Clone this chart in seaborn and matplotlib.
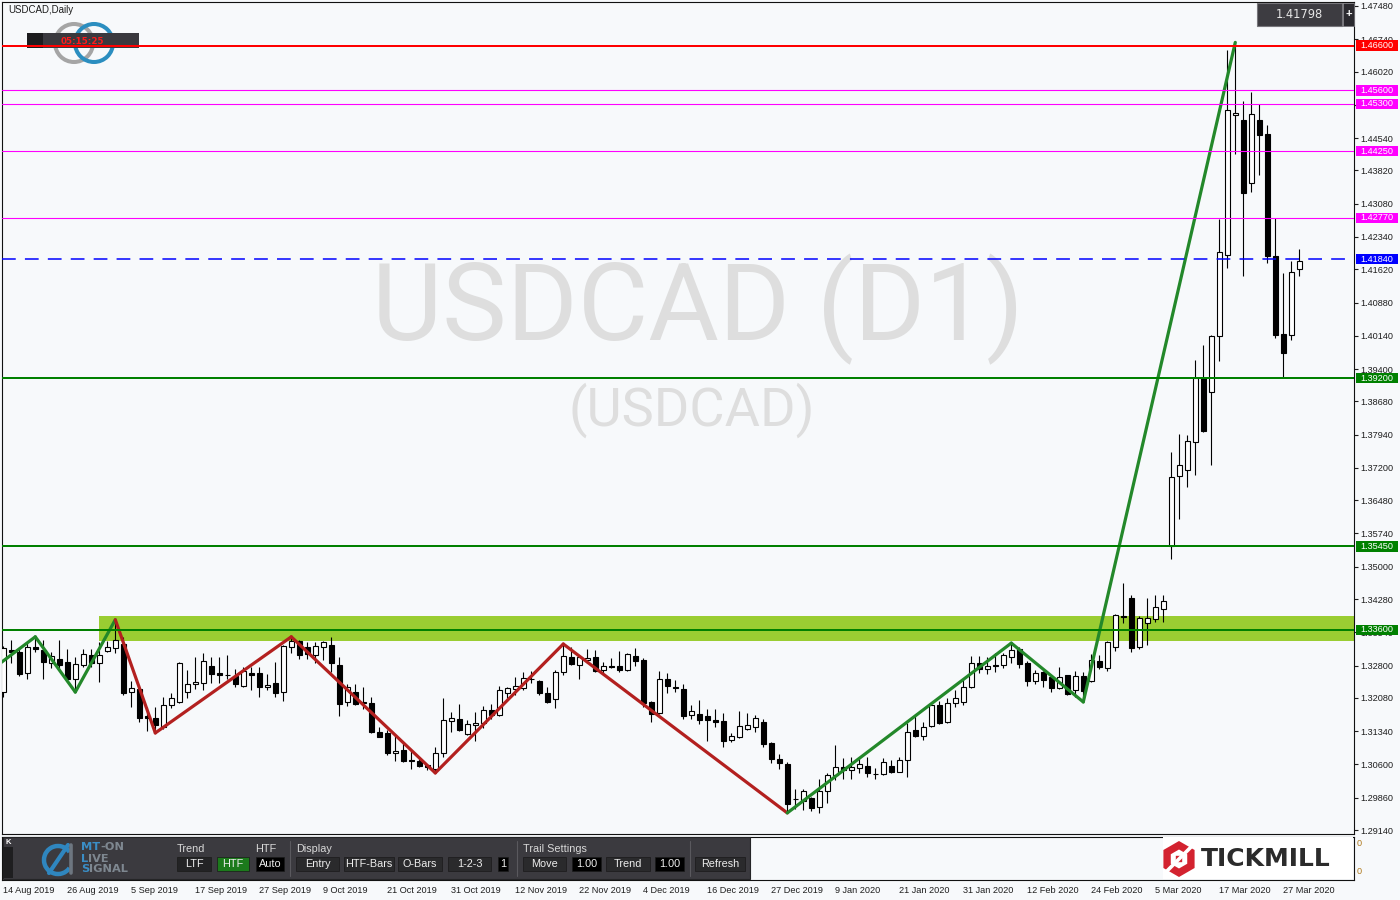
import numpy as np
import pandas as pd
import matplotlib
matplotlib.use("Agg")
import matplotlib.pyplot as plt
import seaborn as sns
from matplotlib.patches import Rectangle, Circle, RegularPolygon, Arc
from matplotlib.transforms import Affine2D, blended_transform_factory
from matplotlib.lines import Line2D
from matplotlib.text import Annotation

# ---------------- data ----------------
date_labels = ["14 Aug 2019", "26 Aug 2019", "5 Sep 2019", "17 Sep 2019", "27 Sep 2019",
               "9 Oct 2019", "21 Oct 2019", "31 Oct 2019", "12 Nov 2019", "22 Nov 2019",
               "4 Dec 2019", "16 Dec 2019", "27 Dec 2019", "9 Jan 2020", "21 Jan 2020",
               "31 Jan 2020", "12 Feb 2020", "24 Feb 2020", "5 Mar 2020", "17 Mar 2020",
               "27 Mar 2020"]

opens = [1.3221, 1.3315, 1.3310, 1.3264, 1.3321, 1.3315, 1.3286, 1.3295, 1.3288, 1.3250,
         1.3281, 1.3304, 1.3286, 1.3313, 1.3319, 1.3328, 1.3221, 1.3228, 1.3168, 1.3163,
         1.3143, 1.3192, 1.3199, 1.3221, 1.3239, 1.3241, 1.3279, 1.3263, 1.3259, 1.3257,
         1.3235, 1.3263, 1.3264, 1.3232, 1.3241, 1.3221, 1.3321, 1.3335, 1.3321, 1.3304,
         1.3321, 1.3326, 1.3281, 1.3199, 1.3221, 1.3198, 1.3197, 1.3132, 1.3130, 1.3086,
         1.3092, 1.3069, 1.3068, 1.3059, 1.3050, 1.3086, 1.3157, 1.3161, 1.3128, 1.3148,
         1.3152, 1.3181, 1.3170, 1.3219, 1.3228, 1.3230, 1.3251, 1.3246, 1.3219, 1.3206,
         1.3266, 1.3299, 1.3281, 1.3293, 1.3299, 1.3270, 1.3278, 1.3279, 1.3270, 1.3301,
         1.3293, 1.3199, 1.3175, 1.3250, 1.3233, 1.3228, 1.3170, 1.3172, 1.3168, 1.3158,
         1.3157, 1.3114, 1.3121, 1.3139, 1.3143, 1.3155, 1.3108, 1.3072, 1.3061, 1.2984,
         1.2979, 1.2985, 1.2965, 1.3001, 1.3037, 1.3054, 1.3048, 1.3052, 1.3057, 1.3039,
         1.3039, 1.3057, 1.3043, 1.3070, 1.3137, 1.3123, 1.3146, 1.3192, 1.3155, 1.3197,
         1.3199, 1.3232, 1.3286, 1.3272, 1.3282, 1.3281, 1.3299, 1.3317, 1.3286, 1.3246,
         1.3266, 1.3255, 1.3230, 1.3259, 1.3226, 1.3257, 1.3246, 1.3290, 1.3275, 1.3321,
         1.3390, 1.3430, 1.3321, 1.3375, 1.3384, 1.3406, 1.3546, 1.3702, 1.3715, 1.3778,
         1.3920, 1.3889, 1.4014, 1.4194, 1.4505, 1.4495, 1.4354, 1.4495, 1.4463, 1.4192,
         1.4018, 1.4016, 1.4163]
highs = [1.3324, 1.3337, 1.3321, 1.3330, 1.3344, 1.3337, 1.3310, 1.3337, 1.3317, 1.3299,
         1.3317, 1.3317, 1.3333, 1.3335, 1.3382, 1.3344, 1.3246, 1.3237, 1.3188, 1.3188,
         1.3210, 1.3219, 1.3288, 1.3270, 1.3299, 1.3308, 1.3299, 1.3299, 1.3304, 1.3272,
         1.3277, 1.3277, 1.3277, 1.3261, 1.3288, 1.3326, 1.3344, 1.3337, 1.3333, 1.3333,
         1.3335, 1.3344, 1.3299, 1.3239, 1.3239, 1.3232, 1.3210, 1.3143, 1.3137, 1.3126,
         1.3108, 1.3090, 1.3072, 1.3061, 1.3099, 1.3208, 1.3177, 1.3195, 1.3159, 1.3177,
         1.3190, 1.3195, 1.3235, 1.3232, 1.3255, 1.3266, 1.3268, 1.3248, 1.3232, 1.3270,
         1.3328, 1.3321, 1.3301, 1.3317, 1.3315, 1.3288, 1.3297, 1.3313, 1.3308, 1.3319,
         1.3297, 1.3201, 1.3268, 1.3264, 1.3248, 1.3239, 1.3192, 1.3203, 1.3184, 1.3184,
         1.3175, 1.3130, 1.3179, 1.3175, 1.3170, 1.3161, 1.3110, 1.3083, 1.3066, 1.3005,
         1.3005, 1.2988, 1.3028, 1.3041, 1.3103, 1.3074, 1.3077, 1.3077, 1.3077, 1.3052,
         1.3074, 1.3070, 1.3077, 1.3152, 1.3170, 1.3155, 1.3197, 1.3201, 1.3208, 1.3226,
         1.3253, 1.3301, 1.3301, 1.3299, 1.3308, 1.3308, 1.3330, 1.3321, 1.3290, 1.3270,
         1.3268, 1.3259, 1.3277, 1.3260, 1.3268, 1.3266, 1.3306, 1.3304, 1.3335, 1.3395,
         1.3464, 1.3437, 1.3390, 1.3430, 1.3437, 1.3437, 1.3755, 1.3795, 1.3793, 1.3960,
         1.3994, 1.4016, 1.4274, 1.4650, 1.4667, 1.4537, 1.4557, 1.4530, 1.4483, 1.4276,
         1.4154, 1.4180, 1.4207]
lows = [1.3210, 1.3286, 1.3257, 1.3250, 1.3310, 1.3250, 1.3275, 1.3272, 1.3244, 1.3221,
        1.3277, 1.3277, 1.3244, 1.3310, 1.3308, 1.3215, 1.3188, 1.3155, 1.3134, 1.3130,
        1.3139, 1.3186, 1.3197, 1.3208, 1.3228, 1.3226, 1.3241, 1.3241, 1.3250, 1.3232,
        1.3232, 1.3226, 1.3210, 1.3226, 1.3210, 1.3201, 1.3308, 1.3295, 1.3295, 1.3286,
        1.3293, 1.3266, 1.3168, 1.3190, 1.3192, 1.3184, 1.3130, 1.3120, 1.3081, 1.3068,
        1.3066, 1.3050, 1.3055, 1.3048, 1.3041, 1.3077, 1.3132, 1.3134, 1.3126, 1.3112,
        1.3141, 1.3161, 1.3168, 1.3208, 1.3215, 1.3226, 1.3241, 1.3215, 1.3197, 1.3186,
        1.3259, 1.3281, 1.3250, 1.3286, 1.3266, 1.3259, 1.3275, 1.3266, 1.3268, 1.3279,
        1.3188, 1.3155, 1.3172, 1.3219, 1.3221, 1.3161, 1.3161, 1.3150, 1.3112, 1.3143,
        1.3099, 1.3110, 1.3119, 1.3137, 1.3132, 1.3099, 1.3063, 1.3050, 1.2952, 1.2961,
        1.2959, 1.2957, 1.2952, 1.2974, 1.3026, 1.3028, 1.3028, 1.3041, 1.3032, 1.3028,
        1.3037, 1.3041, 1.3042, 1.3032, 1.3121, 1.3114, 1.3143, 1.3150, 1.3152, 1.3188,
        1.3192, 1.3230, 1.3264, 1.3261, 1.3266, 1.3275, 1.3286, 1.3275, 1.3235, 1.3239,
        1.3232, 1.3221, 1.3228, 1.3215, 1.3210, 1.3199, 1.3244, 1.3272, 1.3268, 1.3313,
        1.3375, 1.3310, 1.3317, 1.3326, 1.3377, 1.3377, 1.3517, 1.3606, 1.3677, 1.3704,
        1.3800, 1.3726, 1.3958, 1.4165, 1.4419, 1.4147, 1.4334, 1.4372, 1.4176, 1.4009,
        1.3922, 1.4005, 1.4147]
closes = [1.3319, 1.3310, 1.3261, 1.3321, 1.3317, 1.3288, 1.3301, 1.3281, 1.3250, 1.3284,
          1.3306, 1.3286, 1.3304, 1.3321, 1.3337, 1.3219, 1.3230, 1.3163, 1.3163, 1.3148,
          1.3192, 1.3208, 1.3286, 1.3239, 1.3244, 1.3290, 1.3261, 1.3260, 1.3258, 1.3239,
          1.3268, 1.3260, 1.3232, 1.3237, 1.3219, 1.3324, 1.3335, 1.3304, 1.3306, 1.3324,
          1.3333, 1.3286, 1.3195, 1.3232, 1.3195, 1.3196, 1.3132, 1.3121, 1.3086, 1.3090,
          1.3068, 1.3067, 1.3057, 1.3055, 1.3086, 1.3159, 1.3163, 1.3137, 1.3150, 1.3152,
          1.3181, 1.3170, 1.3226, 1.3230, 1.3235, 1.3253, 1.3249, 1.3219, 1.3199, 1.3266,
          1.3301, 1.3284, 1.3299, 1.3297, 1.3268, 1.3279, 1.3276, 1.3270, 1.3306, 1.3290,
          1.3197, 1.3172, 1.3250, 1.3235, 1.3231, 1.3168, 1.3179, 1.3159, 1.3159, 1.3155,
          1.3112, 1.3123, 1.3146, 1.3148, 1.3163, 1.3106, 1.3072, 1.3063, 1.2972, 1.2982,
          1.3001, 1.2963, 1.3001, 1.3037, 1.3054, 1.3048, 1.3054, 1.3061, 1.3041, 1.3038,
          1.3066, 1.3043, 1.3070, 1.3132, 1.3123, 1.3143, 1.3192, 1.3152, 1.3197, 1.3208,
          1.3232, 1.3286, 1.3272, 1.3279, 1.3280, 1.3304, 1.3315, 1.3284, 1.3246, 1.3264,
          1.3248, 1.3230, 1.3255, 1.3217, 1.3257, 1.3224, 1.3293, 1.3277, 1.3333, 1.3393,
          1.3388, 1.3319, 1.3386, 1.3386, 1.3411, 1.3424, 1.3700, 1.3726, 1.3780, 1.3920,
          1.3802, 1.4014, 1.4201, 1.4517, 1.4510, 1.4332, 1.4508, 1.4461, 1.4192, 1.4016,
          1.3976, 1.4156, 1.41798]

ytick_values = [1.47480, 1.46740, 1.46020, 1.45280, 1.44540, 1.43820, 1.43080, 1.42340,
                1.41620, 1.40880, 1.40140, 1.39400, 1.38680, 1.37940, 1.37200, 1.36480,
                1.35740, 1.35000, 1.34280, 1.33540, 1.32800, 1.32080, 1.31340, 1.30600,
                1.29860, 1.29140]

level_prices = [1.46600, 1.45600, 1.45300, 1.44250, 1.42770, 1.41840, 1.39200, 1.35450, 1.33600]
zone_low, zone_high, zone_start_bar = 1.3335, 1.3390, 12

zz_index = [-1, 4, 9, 14, 19, 36, 54, 70, 98, 126, 135, 154]
zz_price = [1.3277, 1.3344, 1.3221, 1.3382, 1.3130, 1.3344, 1.3041, 1.3328, 1.2952,
            1.3330, 1.3199, 1.4667]
zz_leg_trend = ["up", "up", "up", "down", "down", "down", "down", "down", "up", "up", "up"]

current_price = 1.41798
timer_text = "05:15:25"

# ---------------- styles ----------------
BG = "#F7F9FB"
level_colors = ["#FF0000", "#FF00FF", "#FF00FF", "#FF00FF", "#FF00FF", "#0000FF",
                "#008000", "#008000", "#008000"]
level_widths = [1.44, 0.8, 0.8, 0.8, 0.8, 1.1, 1.44, 1.44, 1.44]
level_dashed = [False, False, False, False, False, True, False, False, False]
level_crisp = [True, False, False, False, False, False, True, True, True]
trend_colors = {"up": "#23882A", "down": "#B3201F"}

sns.set_theme(style="white", rc={"axes.facecolor": BG, "figure.facecolor": BG,
                                 "axes.edgecolor": "#111111"})
plt.rcParams["font.family"] = ["Liberation Sans", "DejaVu Sans"]

fig = plt.figure(figsize=(14, 9), dpi=100)
PX = Affine2D().scale(1 / 1400, -1 / 900).translate(0, 1) + fig.transFigure

ax = fig.add_axes([2 / 1400, 1 - 834 / 900, 1352 / 1400, 832 / 900])
ax2 = fig.add_axes([2 / 1400, 1 - 880 / 900, 1352 / 1400, 43 / 900])
XMIN, XMAX = -0.1625, 168.84
YMIN, YMAX = 1.29051, 1.47569

# watermark
ax.text(698, 340, "USDCAD (D1)", transform=PX, ha="center", va="baseline",
        fontsize=78, family="Roboto", color="#DEDEDE", zorder=0.5)
ax.text(692, 426, "(USDCAD)", transform=PX, ha="center", va="baseline",
        fontsize=39, family="Roboto", color="#DEDEDE", zorder=0.5)

# zone rectangle
ax.add_patch(Rectangle((zone_start_bar, zone_low), XMAX - zone_start_bar + 1,
                       zone_high - zone_low, facecolor="#9ACD32", edgecolor="none", zorder=1))

# candles
o = np.array(opens); h = np.array(highs); l = np.array(lows); c = np.array(closes)
x = np.arange(len(o))
up = c >= o
ax.vlines(x, l, h, color="black", lw=0.8, zorder=3)
body_bottom = np.minimum(o, c)
body_height = np.maximum(np.abs(c - o), 0.00004)
ax.bar(x, body_height, width=0.6, bottom=body_bottom,
       color=np.where(up, "white", "black"), edgecolor="black", linewidth=0.8, zorder=4)

# zigzag via seaborn
rows = []
for k in range(len(zz_index) - 1):
    rows.append({"leg": k, "x": zz_index[k], "y": zz_price[k]})
    rows.append({"leg": k, "x": zz_index[k + 1], "y": zz_price[k + 1]})
zz_df = pd.DataFrame(rows)
palette = {k: trend_colors[zz_leg_trend[k]] for k in range(len(zz_leg_trend))}
sns.lineplot(data=zz_df, x="x", y="y", hue="leg", palette=palette, estimator=None,
             sort=False, legend=False, linewidth=2.3, ax=ax, zorder=5,
             solid_capstyle="round")

# top-left logo and timer box
ax.add_patch(Circle((74, 43), 19, transform=PX, fill=False, ec="#A5A5A5", lw=2.9,
                    zorder=5.2, clip_on=False))
ax.add_patch(Circle((94, 43), 19, transform=PX, fill=False, ec="#2B8EC0", lw=2.9,
                    zorder=5.3, clip_on=False))
ax.add_patch(Rectangle((27, 33), 112, 15, transform=PX, facecolor="#3A393E",
                       edgecolor="none", zorder=5.5, clip_on=False))
ax.add_patch(Rectangle((27, 33), 16, 15, transform=PX, facecolor="#1C1C1E",
                       edgecolor="none", zorder=5.6, clip_on=False))
ax.text(82, 41, timer_text, transform=PX, ha="center", va="center", fontsize=6.3,
        family="DejaVu Sans", weight="bold", color="#FF1A1A", zorder=5.7)
ax.text(8, 10, "USDCAD,Daily", transform=PX, ha="left", va="center", fontsize=7,
        color="#1E1E1E", zorder=8)

# horizontal levels
for p, col, w, dsh, crisp in zip(level_prices, level_colors, level_widths,
                                 level_dashed, level_crisp):
    if dsh:
        ax.axhline(p, color=col, lw=w, ls=(0, (9, 6)), zorder=6.5)
    else:
        ax.axhline(p, color=col, lw=w, zorder=6, antialiased=not crisp)

ax.set_xlim(XMIN, XMAX)
ax.set_ylim(YMIN, YMAX)
ax.set_xlabel(""); ax.set_ylabel("")
ax.set_xticks([])
ax.set_yticks(ytick_values)
ax.set_yticklabels([f"{v:.5f}" for v in ytick_values])
ax.tick_params(axis="y", which="both", left=False, right=True, labelleft=False,
               labelright=True, length=3, width=0.8, pad=1.8, labelsize=6.6,
               colors="#1E1E1E", direction="out")
for s in ax.spines.values():
    s.set_color("#111111"); s.set_linewidth(0.8)

# right side price labels
blend = blended_transform_factory(Affine2D().scale(1 / 1400, 1) + fig.transFigure, ax.transData)
box_h = 0.00225
for p, col in zip(level_prices, level_colors):
    ax.add_patch(Rectangle((1355.5, p - box_h / 2), 42, box_h, transform=blend,
                           facecolor=col, edgecolor="none", zorder=10, clip_on=False))
    ax.text(1360.5, p, f"{p:.5f}", transform=blend, ha="left", va="center",
            fontsize=6.6, color="white", zorder=11, clip_on=False)

# current price box (top right)
ax.add_patch(Rectangle((1257, 3), 85, 23, transform=PX, facecolor="#3D3C41",
                       edgecolor="#77767B", lw=0.8, zorder=10, clip_on=False))
ax.text(1299.5, 14.5, f"{current_price:.5f}", transform=PX, ha="center", va="center",
        fontsize=8.3, family="DejaVu Sans", color="#E6E6E6", zorder=11)
ax.add_patch(Rectangle((1343, 3), 11, 23, transform=PX, facecolor="#2B2A2F",
                       edgecolor="#77767B", lw=0.6, zorder=10, clip_on=False))
ax.text(1348.5, 14, "+", transform=PX, ha="center", va="center", fontsize=8,
        weight="bold", color="white", zorder=11)

# ---------------- indicator panel / x axis ----------------
ax2.set_facecolor(BG)
ax2.set_xlim(XMIN, XMAX)
ax2.set_ylim(0, 1)
ax2.set_yticks([])
ax2.set_xticks(list(range(0, 161, 8)))
ax2.set_xticklabels(date_labels, fontsize=6.6, ha="left")
ax2.tick_params(axis="x", length=3, width=0.8, pad=1.2, colors="#1E1E1E", direction="out")
for s in ax2.spines.values():
    s.set_color("#111111"); s.set_linewidth(0.8)
for yy in (843, 872):
    fig.text(1357, yy, "0", transform=PX, ha="left", va="center", fontsize=6.6,
             color="#B07A1E")

# toolbar
fig.add_artist(Rectangle((3, 837), 747, 42, transform=PX, facecolor="#3B3A3F",
                         edgecolor="#252527", lw=0.8))
fig.add_artist(Rectangle((3, 847), 10, 31, transform=PX, facecolor="#1E1E20",
                         edgecolor="none"))
fig.text(8, 843, "K", transform=PX, ha="center", va="center", fontsize=5.5,
         weight="bold", color="white")
# MT-ON logo icon
fig.add_artist(Arc((58, 860), 28, 28, theta1=35, theta2=325, transform=PX,
                   color="#2F86BF", lw=3.2))
fig.add_artist(Line2D([49, 68], [873, 845], transform=PX, color="#2F86BF", lw=3.0))
fig.add_artist(Line2D([71, 71], [845, 873], transform=PX, color="#6D7680", lw=2.6))
for pre, rest, yy in (("MT", "-ON", 847), ("L", "IVE", 858.5), ("S", "IGNAL", 869.5)):
    t_pre = fig.text(81, yy, pre, transform=PX, ha="left", va="center", fontsize=8.2,
                     family="DejaVu Sans", weight="bold", color="#3A8DC5")
    fig.add_artist(Annotation(rest, xy=(1, 0), xycoords=t_pre, ha="left", va="bottom",
                              fontsize=8.2, family="DejaVu Sans", weight="bold",
                              color="#7E8790"))

for txt, xx in (("Trend", 177), ("HTF", 255), ("Display", 296), ("Trail Settings", 523)):
    fig.text(xx, 849, txt, transform=PX, ha="left", va="center", fontsize=7.8,
             color="#D9D9D9")
buttons = [("LTF", 177, 211, "#232325"), ("HTF", 217, 249, "#1C7A1C"),
           ("Auto", 256, 284, "#000000"), ("Entry", 296, 339, "#2A2A2C"),
           ("HTF-Bars", 344, 394, "#2A2A2C"), ("O-Bars", 398, 442, "#2A2A2C"),
           ("1-2-3", 448, 491, "#2A2A2C"), ("1", 498, 508, "#000000"),
           ("Move", 523, 566, "#2A2A2C"), ("1.00", 572, 601, "#000000"),
           ("Trend", 606, 650, "#2A2A2C"), ("1.00", 655, 684, "#000000"),
           ("Refresh", 695, 745, "#2A2A2C")]
for txt, x0, x1, fc in buttons:
    fig.add_artist(Rectangle((x0, 857), x1 - x0, 14, transform=PX, facecolor=fc,
                             edgecolor="#1A1A1A", lw=0.5))
    fig.text((x0 + x1) / 2, 864, txt, transform=PX, ha="center", va="center",
             fontsize=7.8, color="#EDEDED")
for xx in (290, 517, 690):
    fig.add_artist(Line2D([xx, xx], [841, 876], transform=PX, color="#5A595E", lw=0.8))

# TICKMILL logo
fig.add_artist(Rectangle((1163, 837), 190, 42, transform=PX, facecolor="white",
                         edgecolor="none"))
fig.add_artist(RegularPolygon((1179, 859), 6, radius=18, orientation=0, transform=PX,
                              facecolor="#D3222F", edgecolor="none"))
fig.add_artist(RegularPolygon((1179, 859), 6, radius=9.5, orientation=0, transform=PX,
                              facecolor="white", edgecolor="none"))
fig.add_artist(Line2D([1167, 1191], [871, 847], transform=PX, color="white", lw=2.6))
fig.add_artist(RegularPolygon((1179, 859), 4, radius=4.5, orientation=0.785, transform=PX,
                              facecolor="#D3222F", edgecolor="none"))
fig.text(1201, 859.5, "TICKMILL", transform=PX, ha="left", va="center", fontsize=18,
         family="DejaVu Sans", weight="bold", color="#2B2B2B")

fig.savefig("out.png", dpi=100, facecolor=BG)
